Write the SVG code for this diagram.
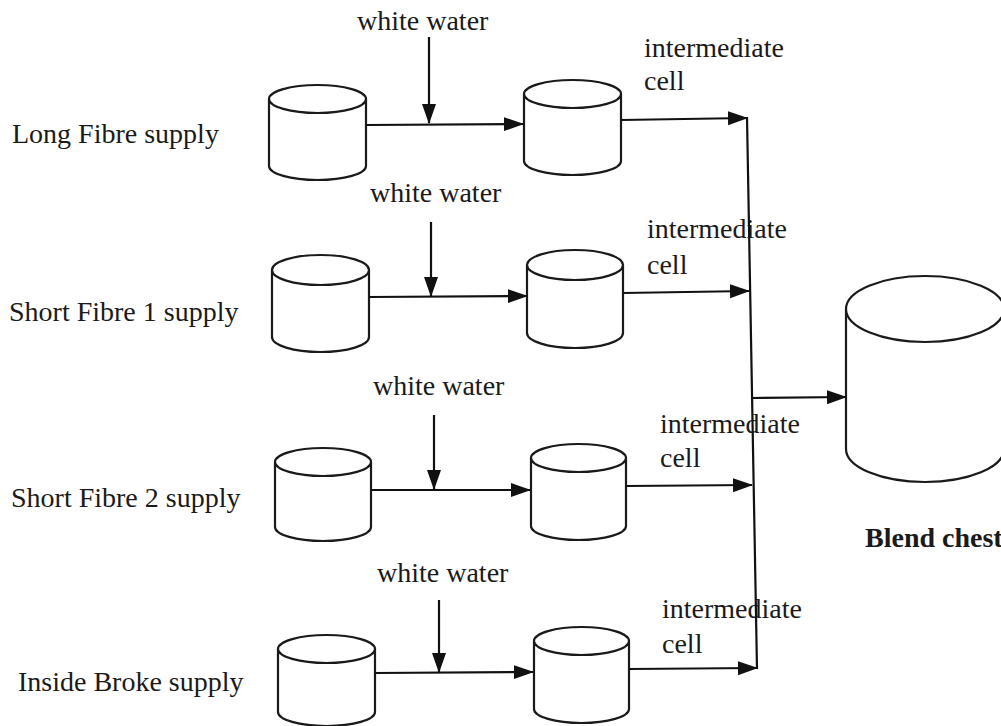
<svg xmlns="http://www.w3.org/2000/svg" width="1001" height="726" viewBox="0 0 1001 726">
<style>
.cyl{fill:#fff;stroke:#1a1a1a;stroke-width:2.2}
.ln{fill:none;stroke:#111;stroke-width:2.2}
.t{font-family:"Liberation Serif","Times New Roman",serif;font-size:28px;fill:#1a1a1a}
.b{font-weight:bold}
</style>
<defs>
<marker id="ah" markerUnits="userSpaceOnUse" markerWidth="20" markerHeight="16" refX="19" refY="8" orient="auto" viewBox="0 0 20 16">
<path d="M0,1 L20,8 L0,15 z" fill="#111"/>
</marker>
</defs>
<rect width="1001" height="726" fill="#fff"/>

<g id="supply1">
<path class="cyl" d="M269,99 L269,166 A48.5,14 0 0 0 366,166 L366,99"/>
<ellipse class="cyl" cx="317.5" cy="99" rx="48.5" ry="14"/>
<text class="t" x="12" y="143">Long Fibre supply</text>
</g>
<g id="cell1">
<path class="cyl" d="M524,94 L524,161 A48.5,14 0 0 0 621,161 L621,94"/>
<ellipse class="cyl" cx="572.5" cy="94" rx="48.5" ry="14"/>
<text class="t" x="644" y="57">intermediate</text>
<text class="t" x="644" y="90">cell</text>
</g>
<g id="ww1"><text class="t" x="357" y="30">white water</text></g>

<g id="supply2">
<path class="cyl" d="M272,270 L272,337 A48.5,15 0 0 0 369,337 L369,270"/>
<ellipse class="cyl" cx="320.5" cy="270" rx="48.5" ry="15"/>
<text class="t" x="9" y="321">Short Fibre 1 supply</text>
</g>
<g id="cell2">
<path class="cyl" d="M527,265 L527,333 A48,15 0 0 0 623,333 L623,265"/>
<ellipse class="cyl" cx="575" cy="265" rx="48" ry="15"/>
<text class="t" x="647" y="238">intermediate</text>
<text class="t" x="647" y="274">cell</text>
</g>
<g id="ww2"><text class="t" x="370" y="202">white water</text></g>

<g id="supply3">
<path class="cyl" d="M275,462 L275,527 A48,14 0 0 0 371,527 L371,462"/>
<ellipse class="cyl" cx="323" cy="462" rx="48" ry="14"/>
<text class="t" x="11" y="507">Short Fibre 2 supply</text>
</g>
<g id="cell3">
<path class="cyl" d="M531,458 L531,526 A47.5,14 0 0 0 626,526 L626,458"/>
<ellipse class="cyl" cx="578.5" cy="458" rx="47.5" ry="14"/>
<text class="t" x="660" y="433">intermediate</text>
<text class="t" x="660" y="467">cell</text>
</g>
<g id="ww3"><text class="t" x="373" y="395">white water</text></g>

<g id="supply4">
<path class="cyl" d="M278,649 L278,712 A48.5,14 0 0 0 375,712 L375,649"/>
<ellipse class="cyl" cx="326.5" cy="649" rx="48.5" ry="14"/>
<text class="t" x="18" y="691">Inside Broke supply</text>
</g>
<g id="cell4">
<path class="cyl" d="M534,641 L534,709 A47.5,14 0 0 0 629,709 L629,641"/>
<ellipse class="cyl" cx="581.5" cy="641" rx="47.5" ry="14"/>
<text class="t" x="662" y="618">intermediate</text>
<text class="t" x="662" y="653">cell</text>
</g>
<g id="ww4"><text class="t" x="377" y="582">white water</text></g>

<g id="blend">
<path class="cyl" d="M846,309 L846,449 A79,33 0 0 0 1004,449 L1004,309"/>
<ellipse class="cyl" cx="925" cy="309" rx="79" ry="33"/>
<text class="t b" x="865" y="547">Blend chest</text>
</g>

<g id="connectors">
<line class="ln" x1="366" y1="125" x2="523" y2="124" marker-end="url(#ah)"/>
<line class="ln" x1="429" y1="37" x2="429" y2="123" marker-end="url(#ah)"/>
<line class="ln" x1="621" y1="120" x2="747" y2="118" marker-end="url(#ah)"/>

<line class="ln" x1="369" y1="297" x2="527" y2="296" marker-end="url(#ah)"/>
<line class="ln" x1="431" y1="222" x2="431" y2="296" marker-end="url(#ah)"/>
<line class="ln" x1="623" y1="293" x2="749" y2="291" marker-end="url(#ah)"/>

<line class="ln" x1="371" y1="490" x2="530" y2="490" marker-end="url(#ah)"/>
<line class="ln" x1="434" y1="415" x2="434" y2="489" marker-end="url(#ah)"/>
<line class="ln" x1="626" y1="486" x2="752" y2="485" marker-end="url(#ah)"/>

<line class="ln" x1="375" y1="673" x2="533" y2="672" marker-end="url(#ah)"/>
<line class="ln" x1="439" y1="600" x2="439" y2="672" marker-end="url(#ah)"/>
<line class="ln" x1="629" y1="669" x2="757" y2="668" marker-end="url(#ah)"/>

<line class="ln" x1="747" y1="117" x2="757" y2="669"/>
<line class="ln" x1="752" y1="398" x2="846" y2="397" marker-end="url(#ah)"/>
</g>
</svg>
